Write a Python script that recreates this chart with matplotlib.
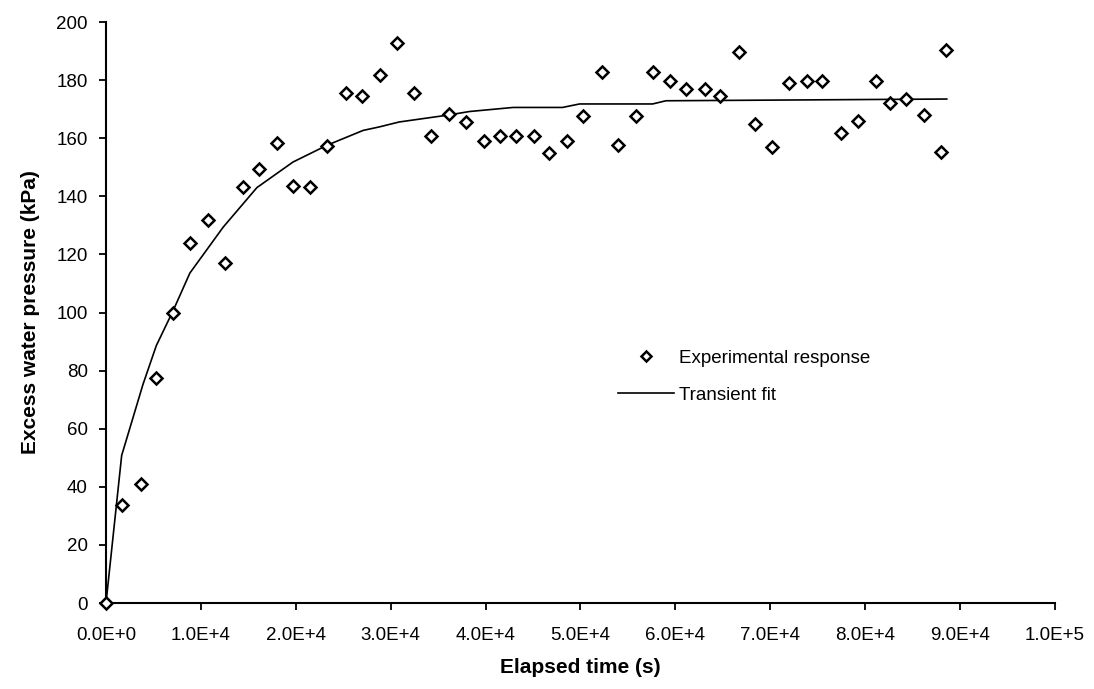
import math
import matplotlib
matplotlib.use("Agg")
import matplotlib.pyplot as plt
from matplotlib.ticker import FuncFormatter, MultipleLocator

plt.rcParams['font.family'] = ['Liberation Sans', 'DejaVu Sans']

# Experimental response
exp_t = [0, 1.65e3, 3.64e3, 5.32e3, 7.08e3, 8.84e3, 10.77e3, 12.5e3, 14.4e3, 16.1e3,
         18.0e3, 19.7e3, 21.5e3, 23.3e3, 25.3e3, 27.0e3, 28.9e3, 30.7e3, 32.5e3, 34.3e3,
         36.1e3, 37.9e3, 39.8e3, 41.5e3, 43.2e3, 45.1e3, 46.7e3, 48.6e3, 50.3e3, 52.3e3,
         54.0e3, 55.9e3, 57.6e3, 59.4e3, 61.1e3, 63.1e3, 64.7e3, 66.7e3, 68.4e3, 70.2e3,
         72.0e3, 73.9e3, 75.5e3, 77.5e3, 79.2e3, 81.1e3, 82.6e3, 84.3e3, 86.2e3, 88.0e3,
         88.5e3]
exp_p = [0, 33.6, 40.9, 77.6, 99.8, 124.0, 131.9, 117.0, 143.2, 149.5,
         158.5, 143.5, 143.3, 157.4, 175.5, 174.6, 181.6, 192.9, 175.5, 160.8,
         168.4, 165.6, 159.0, 160.8, 160.8, 160.8, 154.8, 159.0, 167.8, 182.7,
         157.6, 167.8, 182.7, 179.7, 176.8, 176.8, 174.6, 189.8, 165.0, 157.1,
         179.1, 179.7, 179.7, 161.9, 166.1, 179.7, 172.3, 173.5, 168.0, 155.2,
         190.4]

# Transient fit
fit_t = [0, 1.65e3, 3.9e3, 5.3e3, 7.08e3, 8.84e3, 12.35e3, 15.9e3, 19.7e3, 23.3e3,
         27.1e3, 28.8e3, 30.9e3, 36.1e3, 38.3e3, 42.9e3, 48.1e3, 49.9e3, 57.6e3, 59.0e3,
         88.6e3]
fit_p = [0, 50.8, 75.3, 88.6, 100.7, 113.6, 129.4, 143.0, 151.8, 157.6,
         162.7, 163.9, 165.6, 168.0, 169.2, 170.6, 170.6, 171.8, 171.8, 172.9,
         173.5]

fig = plt.figure(figsize=(10.94, 6.89), dpi=100)
ax = fig.add_axes([0.0969, 0.1248, 0.8674, 0.8432])

ax.plot(exp_t, exp_p, linestyle='none', marker='D', markersize=6,
        markerfacecolor='white', markeredgecolor='black', markeredgewidth=1.8,
        label='Experimental response', zorder=3, clip_on=False)
ax.plot(fit_t, fit_p, color='black', linewidth=1.2, label='Transient fit', zorder=2)

ax.set_xlim(0, 1.0e5)
ax.set_ylim(0, 200)
ax.xaxis.set_major_locator(MultipleLocator(1e4))
ax.yaxis.set_major_locator(MultipleLocator(20))

def fmt(v, pos):
    if v == 0:
        return '0.0E+0'
    e = int(math.floor(math.log10(abs(v)) + 1e-9))
    m = v / 10 ** e
    return f'{m:.1f}E+{e}'

ax.xaxis.set_major_formatter(FuncFormatter(fmt))

for s in ['top', 'right']:
    ax.spines[s].set_visible(False)
for s in ['left', 'bottom']:
    ax.spines[s].set_linewidth(1.5)
ax.tick_params(direction='out', length=5, width=1.3, labelsize=13.5)
ax.tick_params(axis='x', pad=12)
ax.tick_params(axis='y', pad=8)

ax.set_xlabel('Elapsed time (s)', fontsize=15, fontweight='bold', labelpad=10)
ax.set_ylabel('Excess water pressure (kPa)', fontsize=15, fontweight='bold', labelpad=12)

leg = ax.legend(loc='upper left', bbox_to_anchor=(0.522, 0.465), frameon=False,
                fontsize=13.5, handlelength=3.0, handletextpad=0.25, labelspacing=1.07,
                markerscale=0.85)

fig.savefig('out.png', dpi=100)
